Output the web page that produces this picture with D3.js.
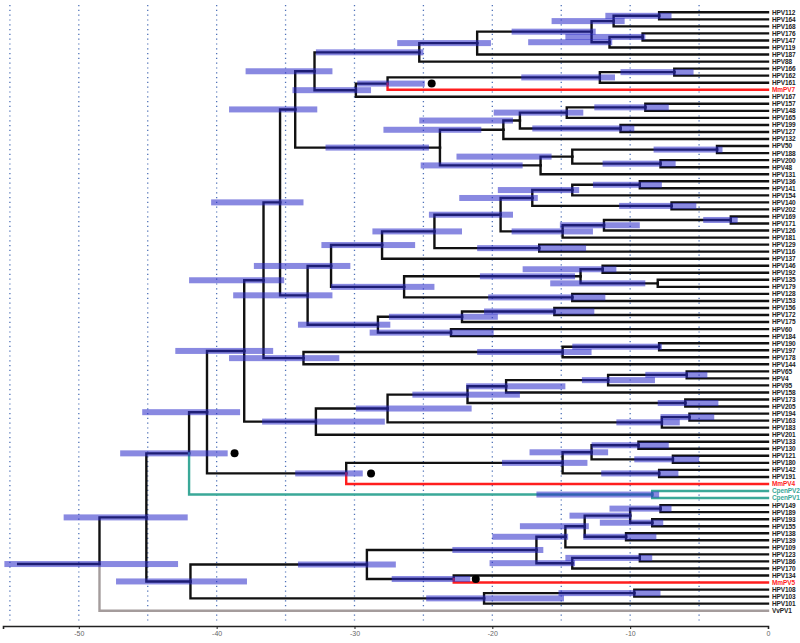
<!DOCTYPE html>
<html><head><meta charset="utf-8">
<script src="https://cdn.jsdelivr.net/npm/d3@7"></script>
<style>body{margin:0;background:#fff}svg{display:block}</style>
</head><body>
<svg id="c" width="800" height="643"></svg>
<script>
// ---- data ----
const leaves = ["HPV112","HPV164","HPV168","HPV176","HPV147","HPV119","HPV187","HPV88","HPV166","HPV162","HPV161","MmPV7","HPV167","HPV157","HPV148","HPV165","HPV199","HPV127","HPV132","HPV50","HPV188","HPV200","HPV48","HPV131","HPV136","HPV141","HPV154","HPV140","HPV202","HPV169","HPV171","HPV126","HPV181","HPV129","HPV116","HPV137","HPV146","HPV192","HPV135","HPV179","HPV128","HPV153","HPV156","HPV172","HPV175","HPV60","HPV184","HPV190","HPV197","HPV178","HPV144","HPV65","HPV4","HPV95","HPV158","HPV173","HPV205","HPV194","HPV163","HPV183","HPV201","HPV133","HPV130","HPV121","HPV180","HPV142","HPV191","MmPV4","CpenPV2","CpenPV1","HPV149","HPV189","HPV193","HPV155","HPV138","HPV139","HPV109","HPV123","HPV186","HPV170","HPV134","MmPV5","HPV108","HPV103","HPV101","VvPV1"];

// internal nodes: [id, child1, child2, time, hpdLow, hpdHigh]
const nodes = [
["A","HPV112","HPV164",-7.9,-11.8,-7.0],
["B","A","HPV168",-11.2,-15.7,-10.4],
["E","HPV176","HPV147",-9.1,-14.7,-8.9],
["D","E","HPV119",-11.5,-17.4,-11.3],
["C","B","D",-12.8,-18.6,-12.5],
["F","C","HPV187",-21.1,-26.9,-20.1],
["G","F","HPV88",-25.3,-32.8,-25.0],
["L","HPV166","HPV162",-6.8,-10.7,-5.4],
["K","L","HPV161",-12.2,-17.9,-11.1],
["J","K","MmPV7",-27.6,-29.8,-24.9],
["I","J","HPV167",-29.9,-34.5,-28.8],
["H","G","I",-32.9,-37.9,-31.6],
["S","HPV157","HPV148",-8.9,-12.6,-7.2],
["R","S","HPV165",-14.6,-19.9,-13.4],
["T","HPV199","HPV127",-10.7,-17.1,-9.7],
["Q","R","T",-18.0,-25.3,-18.5],
["P","Q","HPV132",-19.2,-27.9,-20.8],
["W","HPV50","HPV188",-3.7,-8.3,-3.3],
["X","HPV200","HPV48",-7.8,-12.0,-6.7],
["V","W","X",-14.2,-22.6,-15.7],
["U","V","HPV131",-16.5,-25.2,-17.8],
["O","P","U",-23.8,-32.1,-24.6],
["M","H","O",-34.3,-39.1,-32.7],
["AC","HPV136","HPV141",-9.3,-12.7,-7.7],
["AD","AC","HPV154",-14.2,-19.6,-13.7],
["AF","HPV140","HPV202",-7.0,-10.8,-5.2],
["AE","AD","AF",-17.1,-22.4,-16.7],
["AJ","HPV169","HPV171",-2.7,-4.7,-2.2],
["AI","AJ","HPV126",-11.9,-15.1,-9.3],
["AH","AI","HPV181",-14.9,-18.6,-12.7],
["AG","AE","AH",-19.4,-24.6,-18.5],
["AL","HPV129","HPV116",-16.6,-21.1,-13.2],
["AK","AG","AL",-24.2,-28.7,-22.2],
["AB","AK","HPV137",-28.0,-32.4,-25.6],
["AO","HPV146","HPV192",-12.0,-17.8,-11.0],
["AP","HPV135","HPV179",-8.0,-15.8,-8.9],
["AN","AO","AP",-13.6,-20.9,-14.0],
["AQ","HPV128","HPV153",-14.2,-20.3,-11.8],
["AM","AN","AQ",-26.4,-31.7,-24.2],
["AA","AB","AM",-31.7,-37.3,-30.3],
["AT","HPV156","HPV172",-15.5,-20.6,-12.6],
["AS","AT","HPV175",-22.2,-27.5,-19.6],
["AU","HPV60","HPV184",-23.0,-28.9,-19.9],
["AR","AS","AU",-28.3,-34.1,-27.4],
["Z","AA","AR",-33.4,-38.8,-31.6],
["N","M","Z",-35.4,-40.4,-33.7],
["AX","HPV190","HPV197",-7.9,-14.2,-7.7],
["AW","AX","HPV178",-14.9,-21.1,-12.8],
["AV","AW","HPV144",-33.7,-39.1,-31.1],
["Y","N","AV",-36.6,-42.0,-35.1],
["BH","HPV65","HPV4",-5.9,-8.9,-4.4],
["BG","BH","HPV95",-11.6,-13.5,-8.2],
["BF","BG","HPV158",-19.0,-21.9,-14.7],
["BI","HPV173","HPV205",-6.0,-8.0,-3.6],
["BE","BF","BI",-21.8,-25.8,-18.0],
["BK","HPV194","HPV163",-5.7,-7.8,-3.9],
["BJ","BK","HPV183",-7.7,-11.0,-6.4],
["BD","BE","BJ",-27.6,-29.9,-21.5],
["BC","BD","HPV201",-32.8,-36.7,-27.8],
["AY","Y","BC",-38.0,-43.0,-35.9],
["BN","HPV133","HPV130",-9.4,-12.8,-7.2],
["BO","HPV121","HPV180",-6.9,-9.7,-5.0],
["BM","BN","BO",-12.8,-17.3,-11.6],
["BP","HPV142","HPV191",-7.9,-12.1,-6.5],
["BL","BM","BP",-14.9,-19.3,-13.1],
["BA","BL","MmPV4",-30.6,-34.3,-29.4],
["AZ","AY","BA",-40.7,-45.4,-38.3],
["BQ","CpenPV2","CpenPV1",-8.4,-16.8,-7.9],
["BB","AZ","BQ",-42.0,-47.0,-39.2],
["CE","HPV149","HPV189",-7.8,-11.5,-7.0],
["CF","HPV193","HPV155",-8.4,-12.2,-7.6],
["CD","CE","CF",-10.0,-14.4,-9.9],
["CC","HPV138","HPV139",-10.3,-13.4,-8.1],
["CB","CD","CC",-13.3,-18.0,-13.0],
["CA","CB","HPV109",-14.7,-20.0,-14.5],
["BZ","HPV123","HPV186",-9.3,-14.7,-8.4],
["BY","BZ","HPV170",-14.2,-20.2,-14.0],
["BX","CA","BY",-16.8,-22.9,-16.3],
["BW","HPV134","MmPV5",-22.8,-27.3,-21.6],
["BV","BX","BW",-29.1,-34.1,-27.0],
["BU","HPV108","HPV103",-9.7,-15.2,-7.8],
["BT","BU","HPV101",-20.6,-24.8,-14.8],
["BS","BV","BT",-41.9,-47.3,-37.8],
["BR","BB","BS",-45.1,-51.1,-42.1],
["ROOT","BR","VvPV1",-48.5,-55.4,-42.8]
];
const rootStemStart = -54.4;
// black markers: [node, time]
const markers = [["J",-24.4],["BB",-38.7],["BA",-28.8],["BW",-21.2]];
const redTaxa = ["MmPV7","MmPV4","MmPV5"];
const tealTaxa = ["CpenPV2","CpenPV1","BQ"];
const grayTaxa = ["VvPV1"];
const gridTimes = [-55,-50,-45,-40,-35,-30,-25,-20,-15,-10,-5];
const tickTimes = [-50,-40,-30,-20,-10,0];

// ---- drawing ----
const svg = d3.select("#c");
const x = d3.scaleLinear().domain([-55.5, 0]).range([3, 768]);
const yLeaf = d3.scalePoint().domain(leaves).range([12.3, 610.7]);

const info = {};
leaves.forEach(l => info[l] = {id:l, t:0, y:yLeaf(l), leaf:true});
nodes.forEach(n => {
  const [id,c1,c2,t,lo,hi] = n;
  info[id] = {id, t, lo, hi, kids:[c1,c2], y:(info[c1].y+info[c2].y)/2, leaf:false};
});

const col = id => redTaxa.includes(id) ? "#ff1e1e" : tealTaxa.includes(id) ? "#3aa898" : grayTaxa.includes(id) ? "#a49c9c" : "#111";

// grid
svg.append("g").selectAll("line").data(gridTimes).join("line")
  .attr("x1", d=>x(d)).attr("x2", d=>x(d)).attr("y1", 5).attr("y2", 622)
  .attr("stroke", "#4f72b8").attr("stroke-width", 1.3).attr("stroke-dasharray", "1.2,3.6");

// edges
const edges = [];
nodes.forEach(n => {
  const p = info[n[0]];
  p.kids.forEach(k => edges.push({p, c: info[k]}));
});
const eg = svg.append("g").attr("fill","none").attr("stroke-width", 2.4).attr("stroke-linecap","square");
edges.sort((a,b) => (col(a.c.id)==="#111"?0:1) - (col(b.c.id)==="#111"?0:1));
eg.selectAll("path").data(edges).join("path")
  .attr("d", e => `M${x(e.p.t)},${e.p.y}V${e.c.y}H${x(e.c.t)}`)
  .attr("stroke", e => col(e.c.id));
const root = info["ROOT"];
eg.append("path").attr("d", `M${x(rootStemStart)},${root.y}H${x(root.t)}`).attr("stroke","#111");

// HPD bars
svg.append("g").selectAll("rect").data(nodes.map(n=>info[n[0]])).join("rect")
  .attr("x", d=>x(d.lo)).attr("width", d=>x(d.hi)-x(d.lo))
  .attr("y", d=>d.y-3).attr("height", 6)
  .attr("fill", "rgb(40,40,200)").attr("fill-opacity", 0.55);

// markers
svg.append("g").selectAll("circle").data(markers).join("circle")
  .attr("cx", d=>x(d[1])).attr("cy", d=>info[d[0]].y).attr("r", 4).attr("fill","#000");

// labels
svg.append("g").selectAll("text").data(leaves).join("text")
  .attr("x", 772).attr("y", d=>yLeaf(d)+2.4)
  .attr("font-family", "'Liberation Sans', Arial, sans-serif").attr("font-weight","bold").attr("font-size", 6.5)
  .attr("letter-spacing", -0.1)
  .attr("fill", d => redTaxa.includes(d) ? "#ff1e1e" : tealTaxa.includes(d) ? "#3aa898" : "#222")
  .text(d=>d);

// axis
const ax = svg.append("g").attr("transform","translate(0,626)")
  .call(d3.axisBottom(x).tickValues(tickTimes).tickSize(3).tickSizeOuter(3).tickFormat(d=>d===0?"0":("-"+Math.abs(d))));
ax.select(".domain").attr("stroke","#222").attr("stroke-width",1.6);
ax.selectAll(".tick line").attr("stroke","#222");
ax.selectAll(".tick text").attr("fill","#666").attr("font-size",7).attr("font-family","'Liberation Sans', Arial, sans-serif").attr("dy","0.55em");
</script>
</body></html>
